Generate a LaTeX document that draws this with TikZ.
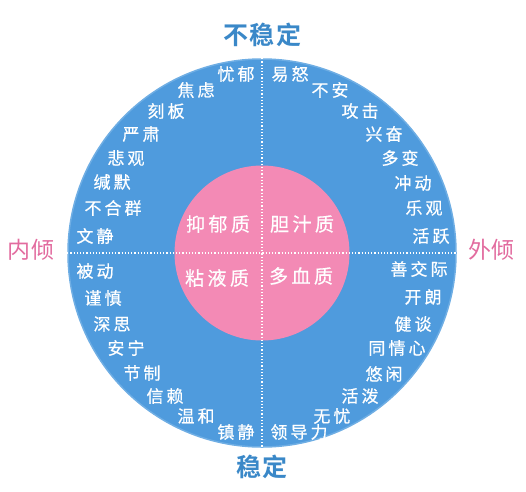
\documentclass[tikz,border=0pt]{standalone}
\usepackage{fontspec}
\setmainfont{Noto Sans CJK SC}
\newfontfamily\wordfont[LetterSpace=18,FakeBold=0.6]{Noto Sans CJK SC}
\newfontfamily\titlefont[LetterSpace=6]{Noto Sans CJK SC Bold}
\usetikzlibrary{positioning}
\definecolor{TemperBlue}{HTML}{4F9BDD}
\definecolor{TemperRim}{HTML}{6FAEE4}
\definecolor{TemperPink}{HTML}{F38AB5}
\definecolor{TemperTitle}{HTML}{3A88C8}
\definecolor{TemperAxis}{HTML}{E26C9F}
\tikzset{
  temper disk/.style={
    circle,
    inner sep=0pt,
    draw=none
  },
  temper word/.style={
    text=white,
    inner sep=0pt,
    font=\wordfont\fontsize{17}{17}\selectfont
  },
  temper type/.style={
    text=white,
    inner sep=0pt,
    font=\wordfont\fontsize{19}{19}\selectfont
  },
  temper title/.style={
    text=TemperTitle,
    inner sep=0pt,
    font=\titlefont\fontsize{25}{25}\selectfont
  },
  temper side/.style={
    text=TemperAxis,
    inner sep=0pt,
    font=\fontsize{23}{23}\selectfont
  },
  temper split/.style={draw=white,line width=1.2pt,dash pattern=on 1.2pt off 2pt}
}

\begin{document}
\begin{tikzpicture}[x=1pt,y=-1pt]
  \useasboundingbox (0,0) rectangle (526,491);

  \node[temper disk,fill=TemperBlue,draw=TemperRim,line width=1.5pt,minimum size=388pt] (outer) at (262,253) {};
  \node[temper disk,fill=TemperPink,minimum size=175pt] (inner) at (262,253) {};

  \draw[temper split] (outer.west) -- (outer.east);
  \draw[temper split] (outer.north) -- (outer.south);

  % four types
  \node[temper type] (yiyu) at (218,224) {抑郁质};
  \node[temper type] (danzhi) at (302,224) {胆汁质};
  \node[temper type] (nianye) at (217,278) {粘液质};
  \node[temper type] (duoxue) at (301,276) {多血质};

  % axes
  \node[temper title] (unstable) at (262,35) {不稳定};
  \node[temper title] (stable) at (262,467) {稳定};
  \node[temper side] (intro) at (31,250) {内倾};
  \node[temper side] (extro) at (491,250) {外倾};

  % upper left
  \node[temper word] (youyu) at (236,74) {忧郁};
  \node[temper word] (jiaolv) at (196,90) {焦虑};
  \node[temper word] (keban) at (166,111) {刻板};
  \node[temper word] (yansu) at (141,134) {严肃};
  \node[temper word] (beiguan) at (126,158) {悲观};
  \node[temper word] (jianmo) at (112,182) {缄默};
  \node[temper word] (buhequn) at (113,208) {不合群};
  \node[temper word] (wenjing) at (95,236) {文静};

  % upper right
  \node[temper word] (yinu) at (290,74) {易怒};
  \node[temper word] (buan) at (330,90) {不安};
  \node[temper word] (gongji) at (360,111) {攻击};
  \node[temper word] (xingfen) at (384,134) {兴奋};
  \node[temper word] (duobian) at (400,158) {多变};
  \node[temper word] (chongdong) at (413,183) {冲动};
  \node[temper word] (leguan) at (424,208) {乐观};
  \node[temper word] (huoyue) at (431,236) {活跃};

  % lower left
  \node[temper word] (beidong) at (95,271) {被动};
  \node[temper word] (jinshen) at (103,298) {谨慎};
  \node[temper word] (shensi) at (112,324) {深思};
  \node[temper word] (anning) at (126,348) {安宁};
  \node[temper word] (jiezhi) at (142,373) {节制};
  \node[temper word] (xinlai) at (165,396) {信赖};
  \node[temper word] (wenhe) at (196,416) {温和};
  \node[temper word] (zhenjing) at (236,432) {镇静};

  % lower right
  \node[temper word] (shanjiaoji) at (419,269) {善交际};
  \node[temper word] (kailang) at (423,297) {开朗};
  \node[temper word] (jiantan) at (413,324) {健谈};
  \node[temper word] (tongqing) at (397,348) {同情心};
  \node[temper word] (youxian) at (384,374) {悠闲};
  \node[temper word] (huopo) at (360,396) {活泼};
  \node[temper word] (wuyou) at (332,416) {无忧};
  \node[temper word] (lingdao) at (299,432) {领导力};
\end{tikzpicture}
\end{document}
